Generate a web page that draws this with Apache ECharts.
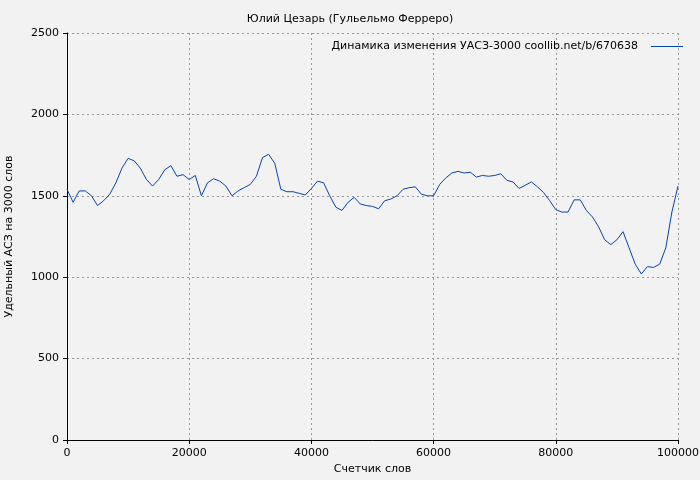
<!DOCTYPE html>
<html><head><meta charset="utf-8">
<script src="https://cdn.jsdelivr.net/npm/echarts@6/dist/echarts.min.js"></script>
<style>html,body{margin:0;padding:0;background:#f2f2f2}#c{width:700px;height:480px}</style>
</head><body><div id="c"></div>
<script>
const title = "Юлий Цезарь (Гульельмо Ферреро)";
const seriesName = "Динамика изменения УАСЗ-3000 coollib.net/b/670638";
const xLabel = "Счетчик слов";
const yLabel = "Удельный АСЗ на 3000 слов";
const xStep = 1000;
const values = [1540,1460,1530,1530,1500,1440,1470,1510,1580,1670,1730,1715,1670,1600,1560,1600,1660,1685,1620,1630,1600,1625,1500,1580,1605,1590,1560,1500,1530,1550,1570,1620,1735,1755,1700,1540,1525,1525,1515,1505,1545,1590,1580,1500,1430,1410,1460,1490,1450,1440,1435,1420,1470,1480,1500,1540,1550,1555,1510,1500,1500,1570,1610,1640,1650,1640,1645,1615,1625,1620,1625,1635,1595,1585,1545,1565,1585,1555,1520,1470,1415,1400,1400,1475,1475,1410,1370,1310,1230,1200,1230,1280,1180,1080,1020,1065,1060,1080,1180,1400,1560];
const data = values.map((v,i)=>[i*xStep,v]);
const chart = echarts.init(document.getElementById('c'));
const font = 'DejaVu Sans';
chart.setOption({
  backgroundColor:'#f2f2f2',
  animation:false,
  textStyle:{fontFamily:font},
  title:{text:title,left:'center',top:9,textStyle:{fontSize:11,fontWeight:'normal',color:'#000',fontFamily:font}},
  legend:{right:12,top:36,itemWidth:32,itemHeight:1,icon:'rect',align:'right',
    textStyle:{fontSize:11,color:'#000',fontFamily:font,padding:[0,8,0,0]},data:[seriesName]},
  grid:{left:67,right:22,top:33,bottom:40,outerBoundsMode:'none',containLabel:false},
  xAxis:{type:'value',min:0,max:100000,interval:20000,name:xLabel,nameLocation:'middle',nameGap:22,
    nameTextStyle:{fontSize:11,color:'#000'},
    axisLine:{lineStyle:{color:'#000'}},axisTick:{show:true,length:4,lineStyle:{color:'#000'}},
    axisLabel:{fontSize:11,color:'#000',formatter:v=>String(v)},
    splitLine:{show:true,lineStyle:{type:[2,3],color:'#999'}}},
  yAxis:{type:'value',min:0,max:2500,interval:500,name:yLabel,nameLocation:'middle',nameGap:52,
    nameTextStyle:{fontSize:11,color:'#000'},
    axisLine:{show:true,lineStyle:{color:'#000'}},axisTick:{show:true,length:4,lineStyle:{color:'#000'}},
    axisLabel:{fontSize:11,color:'#000',formatter:v=>String(v)},
    splitLine:{show:true,lineStyle:{type:[2,3],color:'#999'}}},
  series:[{name:seriesName,type:'line',data:data,showSymbol:false,symbol:'none',
    lineStyle:{width:1,color:'#0645ad'},itemStyle:{color:'#0645ad'}}]
});
</script></body></html>
